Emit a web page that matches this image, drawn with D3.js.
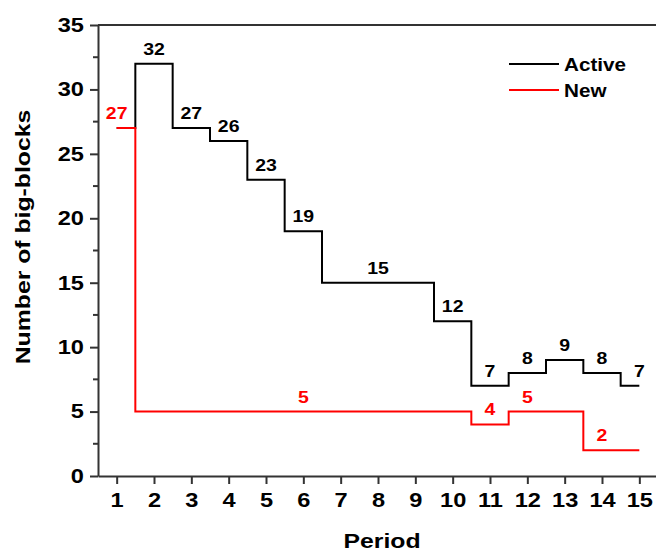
<!DOCTYPE html>
<html>
<head>
<meta charset="utf-8">
<script src="https://cdn.jsdelivr.net/npm/d3@7"></script>
<style>
  body { margin: 0; background: #fff; }
  svg { font-family: 'Liberation Sans', Arial, sans-serif; font-weight: bold; }
</style>
</head>
<body>
<div id="chart"></div>
<script>
const WIDTH = 656;
const HEIGHT = 549;
const margin = { top: 25, right: -2, bottom: 73, left: 98 };
const STRETCH = 1.18; // the original font is set a bit wide

// data
const periods = [1, 2, 3, 4, 5, 6, 7, 8, 9, 10, 11, 12, 13, 14, 15];
const active = [27, 32, 27, 26, 23, 19, 15, 15, 15, 12, 7, 8, 9, 8, 7];
const newBlocks = [27, 5, 5, 5, 5, 5, 5, 5, 5, 5, 4, 5, 5, 2, 2];
const activeLabelPeriods = [2, 3, 4, 5, 6, 8, 10, 11, 12, 13, 14, 15];
const newLabelPeriods = [1, 6, 11, 12, 14];
const yTicks = [0, 5, 10, 15, 20, 25, 30, 35];
const yMinorTicks = [2.5, 7.5, 12.5, 17.5, 22.5, 27.5, 32.5];
const seriesNames = ['Active', 'New'];
const seriesColors = ['#000000', '#ff0000'];

// widen text horizontally around its anchor point
function stretch(sel, s) {
  sel.each(function () {
    const t = d3.select(this);
    const x = +t.attr('x') || 0;
    const y = +t.attr('y') || 0;
    t.attr('x', null).attr('y', null)
      .attr('transform', `translate(${x},${y}) scale(${s},1)`);
  });
}

const svg = d3.select('#chart')
  .append('svg')
  .attr('width', WIDTH)
  .attr('height', HEIGHT);

const xScale = d3.scaleLinear()
  .domain([0.5, 15.5])
  .range([margin.left, WIDTH - margin.right]);
const yScale = d3.scaleLinear()
  .domain([0, 35])
  .range([HEIGHT - margin.bottom, margin.top]);

// axes
const xAxis = d3.axisBottom(xScale).tickValues(periods).tickSize(8).tickSizeOuter(0).tickPadding(9);
const yAxis = d3.axisLeft(yScale).tickValues(yTicks).tickSize(8).tickSizeOuter(0).tickPadding(6);

const gx = svg.append('g')
  .attr('transform', `translate(0,${yScale(0)})`)
  .call(xAxis);
const gy = svg.append('g')
  .attr('transform', `translate(${margin.left},0)`)
  .call(yAxis);

// minor y ticks
gy.selectAll('.minor')
  .data(yMinorTicks)
  .enter()
  .append('line')
  .attr('x1', 0)
  .attr('x2', -5)
  .attr('y1', d => yScale(d))
  .attr('y2', d => yScale(d));

// top frame line
svg.append('line')
  .attr('x1', margin.left)
  .attr('x2', WIDTH)
  .attr('y1', yScale(35))
  .attr('y2', yScale(35))
  .attr('stroke', '#333')
  .attr('stroke-width', 2);

[gx, gy].forEach(g => {
  g.attr('font-size', null).attr('font-family', null);
  g.selectAll('path, line').attr('stroke', '#333').attr('stroke-width', 2);
  g.selectAll('text')
    .attr('font-size', 20)
    .attr('font-weight', 'bold')
    .attr('fill', '#000')
    .call(stretch, STRETCH);
});

// axis titles
svg.append('text')
  .attr('x', 382)
  .attr('y', 548)
  .attr('text-anchor', 'middle')
  .attr('font-size', 21)
  .call(stretch, STRETCH)
  .text('Period');

svg.append('text')
  .attr('transform', `translate(30,237) rotate(-90) scale(${STRETCH},1)`)
  .attr('text-anchor', 'middle')
  .attr('font-size', 21)
  .text('Number of big-blocks');

// step lines
const line = d3.line()
  .x(d => xScale(d.p))
  .y(d => yScale(d.v))
  .curve(d3.curveStep);

const activeData = periods.map((p, i) => ({ p, v: active[i] }));
const newData = periods.map((p, i) => ({ p, v: newBlocks[i] }));

svg.append('path')
  .datum(activeData)
  .attr('d', line)
  .attr('fill', 'none')
  .attr('stroke', seriesColors[0])
  .attr('stroke-width', 2);

svg.append('path')
  .datum(newData)
  .attr('d', line)
  .attr('fill', 'none')
  .attr('stroke', seriesColors[1])
  .attr('stroke-width', 2);

// value labels
svg.selectAll('.alabel')
  .data(activeLabelPeriods)
  .enter()
  .append('text')
  .attr('x', p => xScale(p))
  .attr('y', p => yScale(active[periods.indexOf(p)]) - 9)
  .attr('text-anchor', 'middle')
  .attr('font-size', 16.5)
  .attr('fill', seriesColors[0])
  .text(p => active[periods.indexOf(p)])
  .call(stretch, STRETCH);

svg.selectAll('.nlabel')
  .data(newLabelPeriods)
  .enter()
  .append('text')
  .attr('x', p => xScale(p))
  .attr('y', p => yScale(newBlocks[periods.indexOf(p)]) - 9)
  .attr('text-anchor', 'middle')
  .attr('font-size', 16.5)
  .attr('fill', seriesColors[1])
  .text(p => newBlocks[periods.indexOf(p)])
  .call(stretch, STRETCH);

// legend
const legend = svg.append('g').attr('transform', 'translate(509,64)');
seriesNames.forEach((name, i) => {
  legend.append('line')
    .attr('x1', 0)
    .attr('x2', 50)
    .attr('y1', i * 26)
    .attr('y2', i * 26)
    .attr('stroke', seriesColors[i])
    .attr('stroke-width', 2);
  legend.append('text')
    .attr('x', 55)
    .attr('y', i * 26 + 7)
    .attr('font-size', 17.5)
    .attr('fill', '#000')
    .text(name)
    .call(stretch, STRETCH);
});
</script>
</body>
</html>
